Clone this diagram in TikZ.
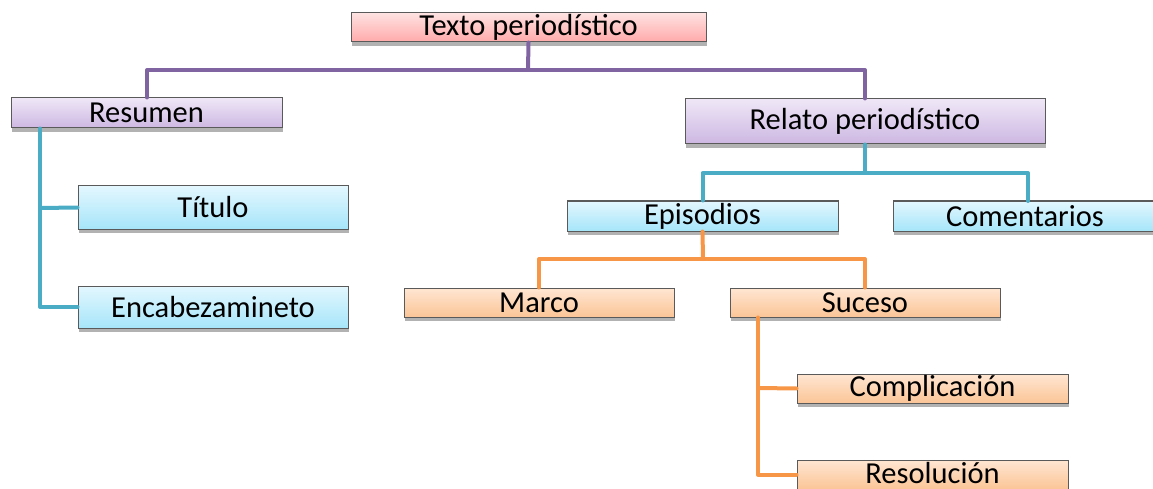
\documentclass[tikz,border=0pt]{standalone}
\usepackage{fontspec}
\setmainfont{Carlito}
\usetikzlibrary{shadows}
\definecolor{pinkT}{HTML}{FFE2E2}
\definecolor{pinkB}{HTML}{FFA9A9}
\definecolor{purT}{HTML}{EFE7F7}
\definecolor{purB}{HTML}{CDB7E2}
\definecolor{bluT}{HTML}{E3F7FE}
\definecolor{bluB}{HTML}{A6E5FA}
\definecolor{oraT}{HTML}{FFE6D2}
\definecolor{oraB}{HTML}{FBC597}
\definecolor{lnPur}{HTML}{8064A2}
\definecolor{lnTeal}{HTML}{4BACC6}
\definecolor{lnOra}{HTML}{F79646}
\definecolor{edge}{HTML}{5A5A5A}
\tikzset{
  box/.style={draw=edge, line width=1pt, rectangle, inner sep=0pt,
    font=\fontsize{30.5}{32}\selectfont, text=black,
    drop shadow={shadow xshift=1pt, shadow yshift=-4pt, opacity=0.3, fill=black}},
  pinkbox/.style={box, top color=pinkT, bottom color=pinkB},
  purbox/.style={box, top color=purT, bottom color=purB},
  blubox/.style={box, top color=bluT, bottom color=bluB},
  orabox/.style={box, top color=oraT, bottom color=oraB},
  conn/.style={line width=4pt, line cap=round, line join=round},
}
\begin{document}
\begin{tikzpicture}[x=1pt,y=-1pt]
\useasboundingbox (0,0) rectangle (1153,489);
\clip (0,0) rectangle (1153,489);
\coordinate (pA) at (528,70);
\coordinate (tA) at (865,173);
\coordinate (oA) at (703,259);
% nodes
\node[pinkbox, minimum width=355pt, minimum height=29pt] (root) at (528.5,27.5) {Texto periodístico};
\node[purbox, minimum width=271pt, minimum height=30pt] (res) at (146.5,113) {Resumen};
\node[purbox, minimum width=360pt, minimum height=45pt] (rel) at (865,121.5) {Relato periodístico};
\node[blubox, minimum width=270pt, minimum height=43pt] (tit) at (213,207.5) {Título};
\node[blubox, minimum width=270pt, minimum height=42pt] (enc) at (213,307) {Encabezamineto};
\node[blubox, minimum width=271pt, minimum height=30pt] (epi) at (702.5,216) {Episodios};
\node[blubox, minimum width=264pt, minimum height=30pt] (com) at (1025,216) {Comentarios};
\node[orabox, minimum width=270pt, minimum height=29pt] (mar) at (539,302.5) {Marco};
\node[orabox, minimum width=270pt, minimum height=29pt] (suc) at (865,302.5) {Suceso};
\node[orabox, minimum width=271pt, minimum height=29pt] (cmp) at (932.5,388.5) {Complicación};
\node[orabox, minimum width=271pt, minimum height=29pt] (rsl) at (932.5,474.5) {\raisebox{2.5pt}{Resolución}};
% connectors
\draw[conn, lnPur] (root.south) -- (pA);
\draw[conn, lnPur] (res.north -| 147,0) |- (pA) -| (rel.north);
\draw[conn, lnTeal] (rel.south) -- (tA);
\draw[conn, lnTeal] (epi.north) |- (tA) -| (1028,201);
\draw[conn, lnTeal] (res.south -| 40,0) |- (enc.west);
\draw[conn, lnTeal] (40,208) -- (tit.west);
\draw[conn, lnOra] (epi.south) -- (oA);
\draw[conn, lnOra] (mar.north) |- (oA) -| (suc.north);
\draw[conn, lnOra] (suc.south -| 758,0) |- (rsl.west);
\draw[conn, lnOra] (758,388) -- (cmp.west);
\end{tikzpicture}
\end{document}
